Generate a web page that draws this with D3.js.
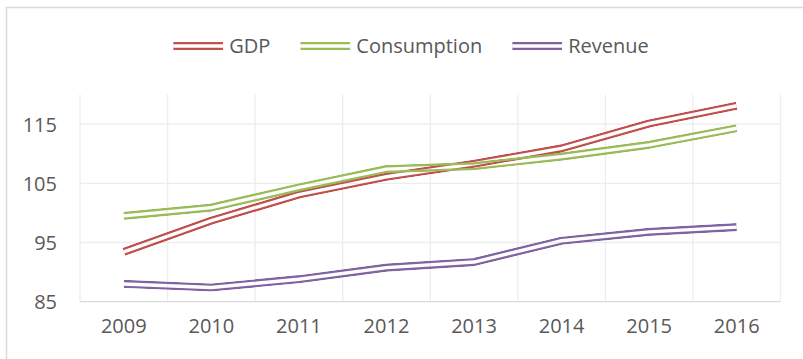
<!DOCTYPE html>
<html>
<head>
<meta charset="utf-8">
<script src="https://cdn.jsdelivr.net/npm/d3@7"></script>
<style>
  html, body { margin: 0; padding: 0; background: #fff; }
  svg { display: block; }
  text { font-family: "Open Sans", "Noto Sans", sans-serif; fill: #595959; }
</style>
</head>
<body>
<svg id="chart" width="803" height="359"></svg>
<script>
// Index values per year
const years = ["2009", "2010", "2011", "2012", "2013", "2014", "2015", "2016"];
const gdp = [93.4, 98.7, 103.1, 106.1, 108.3, 110.9, 115.1, 118.1];
const consumption = [99.5, 100.9, 104.3, 107.4, 107.9, 109.5, 111.5, 114.3];
const revenue = [88.0, 87.4, 88.8, 90.75, 91.7, 95.3, 96.8, 97.6];
const yTicks = [85, 95, 105, 115];
const seriesNames = ["GDP", "Consumption", "Revenue"];
const seriesColors = ["#C0504D", "#9BBB59", "#8064A2"];

const series = [gdp, consumption, revenue].map((values, i) => ({
  name: seriesNames[i], color: seriesColors[i], values
}));

const svg = d3.select("#chart");
const W = 803, H = 359;
const plot = { left: 80, right: 780.5, top: 94.5, bottom: 301.7 };

// Outer chart frame (continues past the visible canvas on right and bottom)
svg.append("rect")
  .attr("x", 6.5).attr("y", 7.5)
  .attr("width", 900).attr("height", 500)
  .attr("fill", "none").attr("stroke", "#d9d9d9").attr("stroke-width", 1.5);

const x = d3.scaleBand().domain(years).range([plot.left, plot.right]).paddingInner(0).paddingOuter(0);
const y = d3.scaleLinear().domain([85, 120]).range([plot.bottom, plot.top]);

// Horizontal gridlines
svg.append("g").selectAll("line").data(yTicks.filter(t => t !== 85)).join("line")
  .attr("x1", plot.left).attr("x2", plot.right)
  .attr("y1", d => y(d)).attr("y2", d => y(d))
  .attr("stroke", "#ededed").attr("stroke-width", 1.3);

// Vertical gridlines at category boundaries
const bounds = years.map(yr => x(yr)).concat([x(years[years.length - 1]) + x.bandwidth()]);
svg.append("g").selectAll("line").data(bounds).join("line")
  .attr("x1", d => d).attr("x2", d => d)
  .attr("y1", plot.top).attr("y2", plot.bottom)
  .attr("stroke", "#ededed").attr("stroke-width", 1.3);

// Category axis line
svg.append("line")
  .attr("x1", plot.left).attr("x2", plot.right)
  .attr("y1", y(85)).attr("y2", y(85))
  .attr("stroke", "#d9d9d9").attr("stroke-width", 1.3);

// Y axis labels
const yAxis = d3.axisLeft(y).tickValues(yTicks).tickSize(0).tickPadding(0);
const gy = svg.append("g").attr("transform", "translate(57,0)").call(yAxis);
gy.select(".domain").remove();
gy.selectAll("text").attr("font-size", 20).attr("fill", "#595959")
  .style("font-family", '"Open Sans", sans-serif').attr("dy", "0.36em");

// X axis labels
const xAxis = d3.axisBottom(x).tickSize(0).tickPadding(0);
const gx = svg.append("g").attr("transform", "translate(0,326)").call(xAxis);
gx.select(".domain").remove();
gx.selectAll("text").attr("font-size", 20).attr("fill", "#595959")
  .style("font-family", '"Open Sans", sans-serif').attr("dy", "0.36em");

// Double (compound) strokes: outer band with a transparent core, via masks
const OUTER = 8.2, INNER = 3.4;
const defs = svg.append("defs");
const line = d3.line()
  .x((d, i) => x(years[i]) + x.bandwidth() / 2)
  .y(d => y(d))
  .curve(d3.curveLinear);

function doubleStroke(parent, id, d, color) {
  const m = defs.append("mask").attr("id", id)
    .attr("maskUnits", "userSpaceOnUse")
    .attr("x", 0).attr("y", 0).attr("width", W).attr("height", H);
  m.append("path").attr("d", d).attr("fill", "none")
    .attr("stroke", "#fff").attr("stroke-width", OUTER).attr("stroke-linejoin", "round");
  m.append("path").attr("d", d).attr("fill", "none")
    .attr("stroke", "#000").attr("stroke-width", INNER).attr("stroke-linejoin", "round");
  parent.append("path").attr("d", d).attr("fill", "none")
    .attr("stroke", color).attr("stroke-width", OUTER)
    .attr("stroke-linejoin", "round")
    .attr("mask", `url(#${id})`);
}

const linesG = svg.append("g");
series.forEach((s, i) => doubleStroke(linesG, "m-line-" + i, line(s.values), s.color));

// Legend, centred above the plot
const legendG = svg.append("g");
const legendY = 46, swatch = 50, gapText = 6, gapItem = 30, legendCenter = 411;
const items = series.map(s => {
  const t = legendG.append("text").text(s.name)
    .attr("font-size", 20).attr("dy", "0.36em").attr("y", legendY);
  return { s, t, w: t.node().getComputedTextLength() };
});
const total = d3.sum(items, it => swatch + gapText + it.w) + gapItem * (items.length - 1);
let cx = legendCenter - total / 2;
items.forEach((it, i) => {
  const d = `M${cx},${legendY}L${cx + swatch},${legendY}`;
  doubleStroke(legendG, "m-leg-" + i, d, it.s.color);
  it.t.attr("x", cx + swatch + gapText);
  cx += swatch + gapText + it.w + gapItem;
});
</script>
</body>
</html>
